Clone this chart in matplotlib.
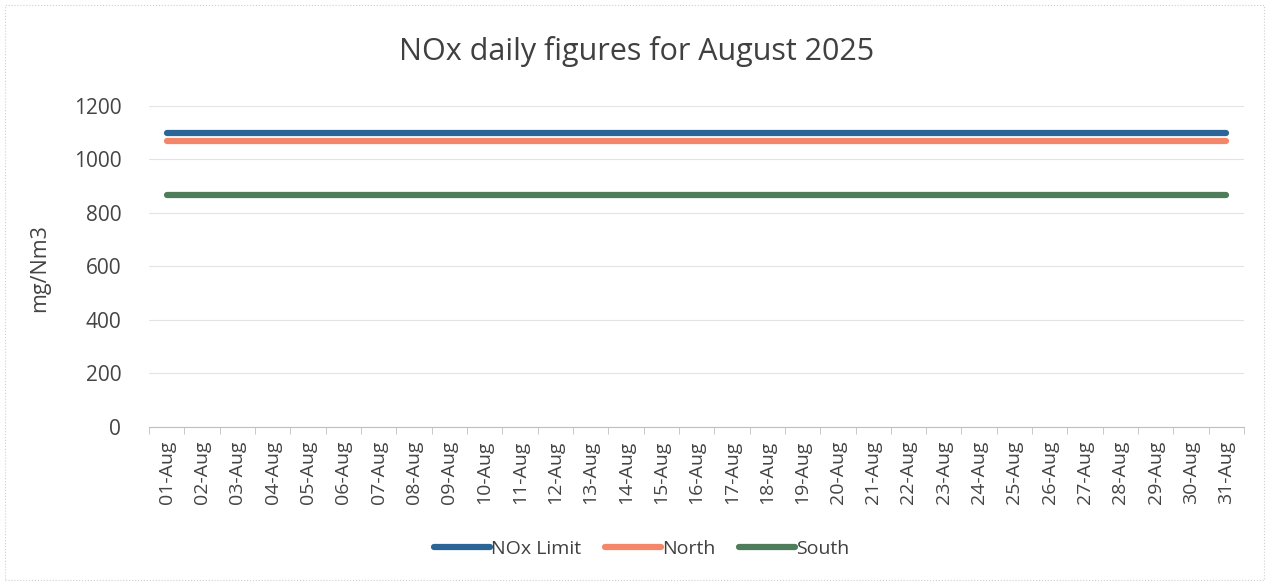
import matplotlib.pyplot as plt
from matplotlib.patches import Rectangle

days = ['%02d-Aug' % d for d in range(1, 32)]
nox_limit = [1100] * 31
north = [1070] * 31
south = [868] * 31

plt.rcParams['font.family'] = ['Open Sans', 'DejaVu Sans']

fig = plt.figure(figsize=(12.74, 5.84), dpi=100)
ax = fig.add_axes([0.117, 0.269, 0.8595, 0.5495])

x = list(range(len(days)))
ax.plot(x, nox_limit, color='#2b6597', lw=4.5, solid_capstyle='round', label='NOx Limit')
ax.plot(x, north, color='#f4876a', lw=4.5, solid_capstyle='round', label='North')
ax.plot(x, south, color='#4f7d5b', lw=4.5, solid_capstyle='round', label='South')

ax.set_xlim(-0.5, len(days) - 0.5)
ax.set_ylim(0, 1200)
ax.set_yticks(range(0, 1201, 200))
ax.set_xticks(x)
ax.set_xticklabels(days, rotation=90)
ax.set_xticks([i - 0.5 for i in range(len(days) + 1)], minor=True)
ax.tick_params(axis='x', which='major', length=0, pad=10, labelsize=14, labelcolor='#444444')
ax.tick_params(axis='x', which='minor', length=5, color='#bfbfbf')
ax.tick_params(axis='y', length=0, pad=20, labelsize=15, labelcolor='#444444')

ax.grid(axis='y', color='#e4e4e4', lw=0.8)
ax.set_axisbelow(True)
for s in ['top', 'right', 'left']:
    ax.spines[s].set_visible(False)
ax.spines['bottom'].set_color('#bfbfbf')

fig.text(40 / 1274, 0.541, 'mg/Nm3', rotation=90, ha='center', va='center',
         fontsize=15.5, color='#444444')
fig.text(0.5, 0.912, 'NOx daily figures for August 2025', ha='center', va='center',
         fontsize=22, color='#404040')

ax.legend(loc='center', bbox_to_anchor=(0.45, -0.38), ncol=3, frameon=False,
          fontsize=14, handlelength=2.9, handletextpad=0.05, columnspacing=1.2,
          labelcolor='#404040')

fig.patches.append(Rectangle((0.004, 0.006), 0.988, 0.985, transform=fig.transFigure,
                             fill=False, ec='#cfcfcf', lw=0.8, ls=':'))

fig.savefig('out.png', dpi=100)
